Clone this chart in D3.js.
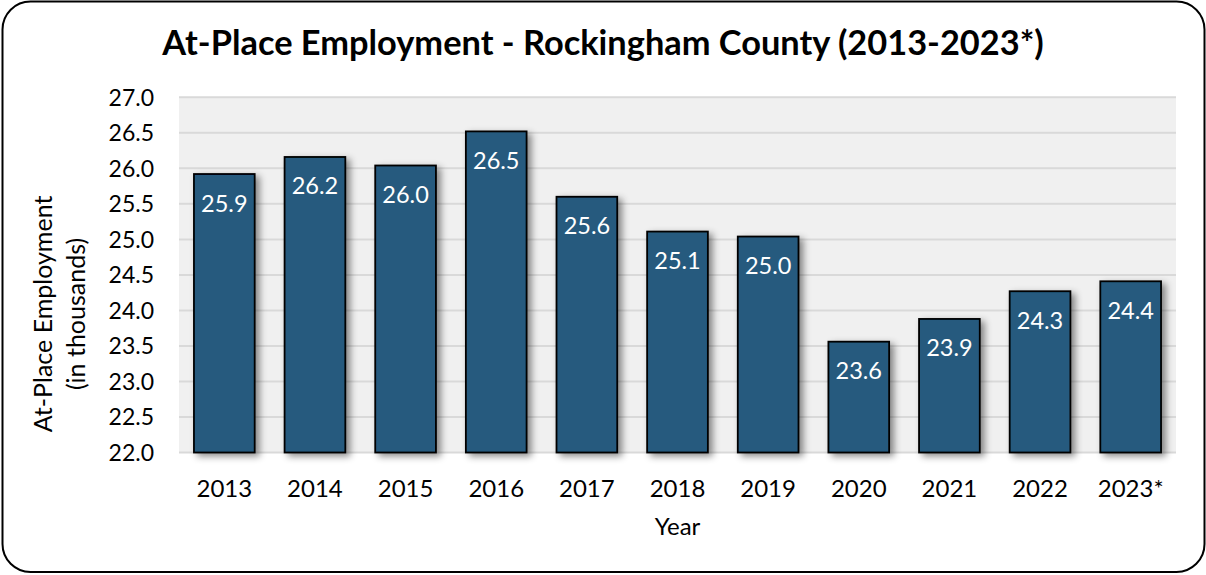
<!DOCTYPE html>
<html>
<head>
<meta charset="utf-8">
<script src="https://cdn.jsdelivr.net/npm/d3@7"></script>
<style>
  html, body { margin: 0; padding: 0; background: #fff; }
  svg { display: block; font-family: Lato, "Open Sans", sans-serif; }
</style>
</head>
<body>
<svg id="chart" width="1206" height="575"></svg>
<script>
// At-place employment, Rockingham County, thousands of jobs
const years = ["2013", "2014", "2015", "2016", "2017", "2018", "2019", "2020", "2021", "2022", "2023*"];
const employment = [25.92, 26.16, 26.04, 26.52, 25.60, 25.11, 25.04, 23.56, 23.88, 24.27, 24.41];
const yTicks = [22.0, 22.5, 23.0, 23.5, 24.0, 24.5, 25.0, 25.5, 26.0, 26.5, 27.0];

const titleText = "At-Place Employment - Rockingham County (2013-2023*)";
const yTitleLines = ["At-Place Employment", "(in thousands)"];
const xTitle = "Year";

const W = 1206, H = 575;
const plot = { left: 179, right: 1176, top: 97.3, bottom: 452.5 };
const fmt = d3.format(".1f");

const svg = d3.select("#chart");

// drop shadow for the bars
const defs = svg.append("defs");
const shadow = defs.append("filter").attr("id", "barShadow")
  .attr("x", "-20%").attr("y", "-20%").attr("width", "150%").attr("height", "150%");
shadow.append("feDropShadow")
  .attr("dx", 4).attr("dy", 3).attr("stdDeviation", 3.5)
  .attr("flood-color", "#000").attr("flood-opacity", 0.45);

// outer rounded frame
svg.append("rect")
  .attr("x", 2.5).attr("y", 1.5).attr("width", 1202).attr("height", 570.5)
  .attr("rx", 28).attr("ry", 28)
  .attr("fill", "#fff").attr("stroke", "#000").attr("stroke-width", 2);

const x = d3.scaleBand().domain(years).range([plot.left, plot.right])
  .paddingInner(0.33).paddingOuter(0.165);
const y = d3.scaleLinear().domain([22, 27]).range([plot.bottom, plot.top]);

// plot background
svg.append("rect")
  .attr("x", plot.left).attr("y", plot.top)
  .attr("width", plot.right - plot.left).attr("height", plot.bottom - plot.top)
  .attr("fill", "#f0f0f0");

// gridlines
svg.append("g").selectAll("line").data(yTicks).join("line")
  .attr("x1", plot.left).attr("x2", plot.right)
  .attr("y1", d => y(d)).attr("y2", d => y(d))
  .attr("stroke", "#d9d9d9").attr("stroke-width", 2);

// y tick labels
svg.append("g").selectAll("text").data(yTicks).join("text")
  .attr("x", 154).attr("y", d => y(d) + 8.3)
  .attr("text-anchor", "end")
  .attr("font-size", 23).attr("fill", "#000")
  .text(d => fmt(d));

// bars
svg.append("g").selectAll("rect").data(employment).join("rect")
  .attr("x", (d, i) => x(years[i]))
  .attr("y", d => y(d))
  .attr("width", x.bandwidth())
  .attr("height", d => y(22) - y(d))
  .attr("fill", "#255a7e")
  .attr("stroke", "#000").attr("stroke-width", 1.8)
  .attr("filter", "url(#barShadow)");

// value labels inside bar tops
svg.append("g").selectAll("text").data(employment).join("text")
  .attr("x", (d, i) => x(years[i]) + x.bandwidth() / 2)
  .attr("y", d => y(d) + 37.5)
  .attr("text-anchor", "middle")
  .attr("font-size", 23.5).attr("fill", "#fff")
  .text(d => fmt(d));

// x tick labels
svg.append("g").selectAll("text").data(years).join("text")
  .attr("x", d => x(d) + x.bandwidth() / 2)
  .attr("y", 497)
  .attr("text-anchor", "middle")
  .attr("font-size", 24).attr("fill", "#000")
  .text(d => d);

// axis titles
svg.append("text")
  .attr("x", (plot.left + plot.right) / 2).attr("y", 535)
  .attr("text-anchor", "middle").attr("font-size", 24).attr("fill", "#000")
  .text(xTitle);

const yTitleX = [43, 76];
yTitleLines.forEach((line, i) => {
  svg.append("text")
    .attr("transform", `translate(${yTitleX[i] + 8.5},314) rotate(-90)`)
    .attr("text-anchor", "middle").attr("font-size", 25).attr("fill", "#000")
    .text(line);
});

// chart title, sized to span its line
const title = svg.append("text")
  .attr("x", W / 2).attr("y", 55)
  .attr("text-anchor", "middle")
  .attr("font-weight", "bold").attr("font-size", 30).attr("fill", "#000")
  .text(titleText);
const tw = title.node().getComputedTextLength();
title.attr("font-size", 30 * 882 / tw);
</script>
</body>
</html>
